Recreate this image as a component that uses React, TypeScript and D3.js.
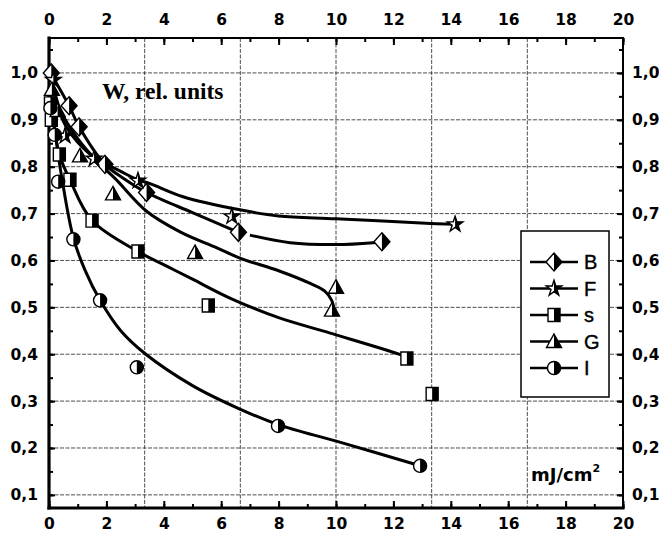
import React, { useEffect, useRef } from "react";
import * as d3 from "d3";

// measured markers [fluence mJ/cm2, W rel. units]
const pointsB = [[0.08, 1.0], [0.7, 0.93], [1.05, 0.885], [1.95, 0.805], [3.4, 0.745], [6.6, 0.66], [11.6, 0.64]];
const pointsF = [[0.15, 0.985], [0.56, 0.866], [1.57, 0.817], [3.1, 0.77], [6.37, 0.694], [14.15, 0.677]];
const pointsS = [[0.05, 0.935], [0.08, 0.9], [0.36, 0.826], [0.73, 0.772], [1.5, 0.685], [3.1, 0.619], [5.55, 0.504], [12.47, 0.391], [13.35, 0.315]];
const pointsG = [[0.1, 0.965], [0.3, 0.92], [1.08, 0.823], [2.23, 0.742], [5.09, 0.617], [10.0, 0.543], [9.86, 0.494]];
const pointsI = [[0.05, 0.925], [0.2, 0.868], [0.32, 0.768], [0.85, 0.645], [1.78, 0.515], [3.06, 0.372], [7.98, 0.247], [12.93, 0.162]];

// fitted curves
const curveF = [[0.05, 1.0], [0.3, 0.93], [0.6, 0.885], [1.0, 0.852], [1.57, 0.82], [2.5, 0.79], [3.1, 0.772], [3.52, 0.764], [4.67, 0.736], [6.65, 0.708], [8, 0.695], [10, 0.689], [13.3, 0.679], [14.15, 0.677]];
const curveB1 = [[0.05, 1.0], [0.7, 0.93], [1.05, 0.885], [1.95, 0.805], [2.6, 0.775], [3.4, 0.745], [5, 0.702], [6.6, 0.66]];
const curveB2 = [[7.0, 0.654], [8.4, 0.638], [10, 0.634], [11.3, 0.638], [11.6, 0.64]];
const curveG = [[0.05, 1.0], [0.4, 0.92], [1.0, 0.86], [1.78, 0.805], [2.3, 0.775], [3.4, 0.705], [4.6, 0.66], [5.85, 0.627], [6.65, 0.605], [8, 0.578], [9.1, 0.551], [9.6, 0.535], [9.85, 0.515], [9.92, 0.5]];
const curveS = [[0.03, 0.98], [0.15, 0.9], [0.36, 0.826], [0.73, 0.772], [1.5, 0.685], [3.1, 0.619], [4.1, 0.588], [5, 0.56], [6.4, 0.517], [8, 0.478], [9.8, 0.445], [12.3, 0.398], [12.47, 0.393]];
const curveI = [[0.02, 0.97], [0.15, 0.9], [0.3, 0.835], [0.45, 0.775], [0.85, 0.648], [1.25, 0.58], [1.78, 0.515], [2.5, 0.45], [3.33, 0.402], [5, 0.333], [6.65, 0.283], [7.98, 0.25], [10.1, 0.213], [12.93, 0.162]];

const legendNames = ["B", "F", "s", "G", "I"];
const xTickValues = [0, 2, 4, 6, 8, 10, 12, 14, 16, 18, 20];
const yTickValues = [0.1, 0.2, 0.3, 0.4, 0.5, 0.6, 0.7, 0.8, 0.9, 1.0];
const xGridValues = [10 / 3, 20 / 3, 10, 40 / 3, 50 / 3];

const W = 659;
const H = 538;
const margin = { top: 38, right: 36, bottom: 30, left: 49 };

const shapes: Record<string, string> = {
	B: "M0,-9L8,0L0,9L-8,0Z",
	F: d3.symbol(d3.symbolStar, 75)() as string,
	s: "M-6,-6.5H6V6.5H-6Z",
	G: "M0,-7.5L7.5,6L-7.5,6Z",
	I: d3.symbol(d3.symbolCircle, 135)() as string,
};

const App: React.FC = () => {
	const svgRef = useRef<SVGSVGElement | null>(null);

	useEffect(() => {
		const svg = d3.select(svgRef.current);
		svg.selectAll("*").remove();

		const x = d3.scaleLinear().domain([0, 20]).range([margin.left, W - margin.right]);
		const y = d3.scaleLinear().domain([0.072, 1.0745]).range([H - margin.bottom, margin.top]);
		const fmt = (d: any) => d3.format(".1f")(d).replace(".", ",");

		svg.append("defs")
			.append("clipPath")
			.attr("id", "rightHalf")
			.attr("clipPathUnits", "userSpaceOnUse")
			.append("rect")
			.attr("x", 0)
			.attr("y", -20)
			.attr("width", 20)
			.attr("height", 40);

		// grid
		const grid = svg.append("g").attr("stroke", "#222").attr("stroke-width", 0.8).attr("stroke-dasharray", "4,1.5");
		grid.selectAll(".hg")
			.data(yTickValues)
			.enter()
			.append("line")
			.attr("x1", x(0))
			.attr("x2", x(20))
			.attr("y1", (d) => y(d))
			.attr("y2", (d) => y(d));
		grid.selectAll(".vg")
			.data(xGridValues)
			.enter()
			.append("line")
			.attr("x1", (d) => x(d))
			.attr("x2", (d) => x(d))
			.attr("y1", y.range()[1])
			.attr("y2", y.range()[0]);

		// axes
		const axisFont = (g: any) =>
			g.selectAll("text")
				.attr("font-family", "DejaVu Sans")
				.attr("font-weight", "bold")
				.attr("font-size", 15.5)
				.attr("fill", "#000");
		const clean = (g: any) => {
			g.select(".domain").remove();
			g.selectAll("line").attr("stroke", "#000").attr("stroke-width", 2);
		};

		const xMinor = d3.range(0, 21, 1);
		const yMinor = d3.range(0.1, 1.06, 0.05);

		svg.append("g")
			.attr("transform", `translate(0,${margin.top})`)
			.call(d3.axisTop(x).tickValues(xMinor).tickSize(-4).tickFormat(() => ""))
			.call(clean);
		svg.append("g")
			.attr("transform", `translate(0,${margin.top})`)
			.call(d3.axisTop(x).tickValues(xTickValues).tickSize(-7).tickPadding(13).tickFormat(d3.format("d")))
			.call(clean)
			.call(axisFont);
		svg.append("g")
			.attr("transform", `translate(0,${H - margin.bottom})`)
			.call(d3.axisBottom(x).tickValues(xMinor).tickSize(-4).tickFormat(() => ""))
			.call(clean);
		svg.append("g")
			.attr("transform", `translate(0,${H - margin.bottom})`)
			.call(d3.axisBottom(x).tickValues(xTickValues).tickSize(-7).tickPadding(10).tickFormat(d3.format("d")))
			.call(clean)
			.call(axisFont);
		svg.append("g")
			.attr("transform", `translate(${margin.left},0)`)
			.call(d3.axisLeft(y).tickValues(yMinor).tickSize(-4).tickFormat(() => ""))
			.call(clean);
		svg.append("g")
			.attr("transform", `translate(${margin.left},0)`)
			.call(d3.axisLeft(y).tickValues(yTickValues).tickSize(-6).tickPadding(11).tickFormat(fmt))
			.call(clean)
			.call(axisFont);
		svg.append("g")
			.attr("transform", `translate(${W - margin.right},0)`)
			.call(d3.axisRight(y).tickValues(yMinor).tickSize(-4).tickFormat(() => ""))
			.call(clean);
		svg.append("g")
			.attr("transform", `translate(${W - margin.right},0)`)
			.call(d3.axisRight(y).tickValues(yTickValues).tickSize(-6).tickPadding(9).tickFormat(fmt))
			.call(clean)
			.call(axisFont);

		// frame
		const [x0, x1] = x.range();
		const [y0, y1] = y.range();
		const frame = svg.append("g").attr("stroke", "#000").attr("stroke-linecap", "square");
		frame.append("line").attr("x1", x0).attr("x2", x1).attr("y1", y1).attr("y2", y1).attr("stroke-width", 2);
		frame.append("line").attr("x1", x1).attr("x2", x1).attr("y1", y1).attr("y2", y0).attr("stroke-width", 2);
		frame.append("line").attr("x1", x0).attr("x2", x1).attr("y1", y0).attr("y2", y0).attr("stroke-width", 3.2);
		frame.append("line").attr("x1", x0).attr("x2", x0).attr("y1", y1).attr("y2", y0).attr("stroke-width", 3.2);

		// curves
		const line = d3
			.line<number[]>()
			.x((d) => x(d[0]))
			.y((d) => y(d[1]))
			.curve(d3.curveCatmullRom.alpha(0.5));
		svg.append("g")
			.selectAll("path")
			.data([curveF, curveB1, curveB2, curveG, curveS, curveI])
			.enter()
			.append("path")
			.attr("d", (d) => line(d))
			.attr("fill", "none")
			.attr("stroke", "#000")
			.attr("stroke-width", 3);

		const drawMarker = (g: any, key: string) => {
			g.append("path").attr("d", shapes[key]).attr("fill", "#fff").attr("stroke", "#000").attr("stroke-width", 1.4);
			g.append("path").attr("d", shapes[key]).attr("fill", "#000").attr("clip-path", "url(#rightHalf)");
		};

		const series: [string, number[][]][] = [
			["B", pointsB],
			["F", pointsF],
			["s", pointsS],
			["G", pointsG],
			["I", pointsI],
		];
		series.forEach(([key, pts]) => {
			svg.append("g")
				.selectAll("g")
				.data(pts)
				.enter()
				.append("g")
				.attr("transform", (d) => `translate(${x(d[0])},${y(d[1])})`)
				.each(function () {
					drawMarker(d3.select(this), key);
				});
		});

		// legend
		const lg = svg.append("g");
		lg.append("rect")
			.attr("x", 521)
			.attr("y", 231)
			.attr("width", 88)
			.attr("height", 166)
			.attr("fill", "#fff")
			.attr("stroke", "#000")
			.attr("stroke-width", 1.5);
		legendNames.forEach((name, i) => {
			const cy = 262 + i * 26.5;
			lg.append("line").attr("x1", 530).attr("x2", 578).attr("y1", cy).attr("y2", cy).attr("stroke", "#000").attr("stroke-width", 2.5);
			drawMarker(lg.append("g").attr("transform", `translate(554,${cy})`), name);
			lg.append("text")
				.attr("x", 584)
				.attr("y", cy + 7)
				.attr("font-family", "Liberation Sans")
				.attr("font-size", 20)
				.attr("stroke", "#000")
				.attr("stroke-width", 0.4)
				.text(name);
		});

		svg.append("text")
			.attr("x", 102)
			.attr("y", 99)
			.attr("font-family", "Liberation Serif")
			.attr("font-weight", "bold")
			.attr("font-size", 23.5)
			.text("W, rel. units");

		const unit = svg.append("text")
			.attr("x", 531)
			.attr("y", 481)
			.attr("font-family", "DejaVu Sans")
			.attr("font-weight", "bold")
			.attr("font-size", 18);
		unit.append("tspan").text("mJ/cm");
		unit.append("tspan").attr("font-size", 11).attr("dy", -9).text("2");
	}, []);

	return (
		<svg
			ref={svgRef}
			width={W}
			height={H}
			style={{ position: "absolute", left: 0, top: 0, background: "#fff" }}
		></svg>
	);
};

export default App;
